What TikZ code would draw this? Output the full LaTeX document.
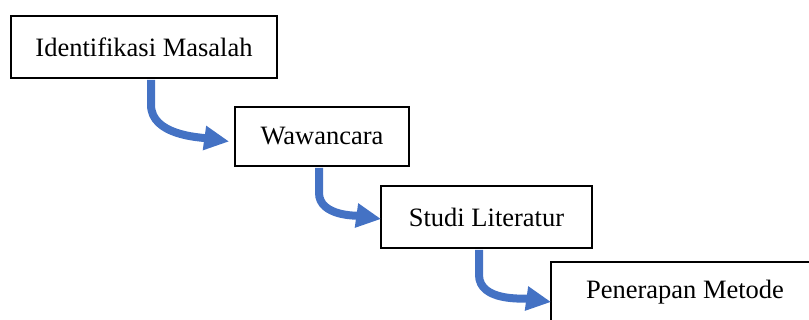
\documentclass[tikz,border=0pt]{standalone}
\usepackage{fontspec}
\setmainfont{Liberation Serif}
\usetikzlibrary{arrows.meta,calc}
\definecolor{arrowblue}{HTML}{4472C4}
\begin{document}
\begin{tikzpicture}[x=1pt,y=-1pt,
  stepbox/.style={draw=black,line width=1.6pt,fill=white,inner sep=0pt,
    font=\fontsize{26.5}{30}\selectfont},
  bentarrow/.style={draw=arrowblue,line width=8pt,
    -{Triangle[length=25pt,width=23pt]}}]
\clip (0,0) rectangle (809,320);
\useasboundingbox (0,0) rectangle (809,320);
\node[stepbox,minimum width=266pt,minimum height=62pt] (b1) at (144,47) {Identifikasi Masalah};
\node[stepbox,minimum width=174pt,minimum height=59pt] (b2) at (322,136.5) {Wawancara};
\node[stepbox,minimum width=211pt,minimum height=62pt] (b3) at (486.5,217) {Studi Literatur};
\node[stepbox,minimum width=268pt,minimum height=60pt] (b4) at (685,292) {Penerapan Metode};
\coordinate (s1) at ($(b1.south)+(7,1)$);
\coordinate (t1) at ($(b2.west)+(-5,5)$);
\coordinate (s2) at ($(b2.south)+(-3,1)$);
\coordinate (t2) at ($(b3.west)+(1,2)$);
\coordinate (s3) at ($(b3.south)+(-7.5,1)$);
\coordinate (t3) at ($(b4.west)+(1,10)$);
\draw[bentarrow] (s1) -- ++(0,25) to[out=-90,in=172,looseness=0.9] (t1);
\draw[bentarrow] (s2) -- ++(0,25) to[out=-90,in=172,looseness=0.9] (t2);
\draw[bentarrow] (s3) -- ++(0,25) to[out=-90,in=172,looseness=0.9] (t3);
\end{tikzpicture}
\end{document}
